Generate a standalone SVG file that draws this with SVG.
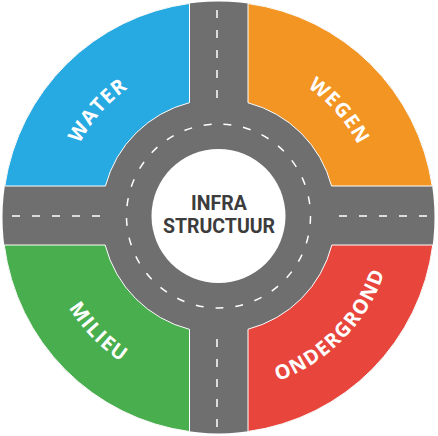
<svg xmlns="http://www.w3.org/2000/svg" width="438" height="436" viewBox="0 0 438 436">
  <style>
    .road { fill: #6f6f6f; }
    .sector { stroke: #ffffff; stroke-width: 1; }
    .dash { fill: none; stroke: #ffffff; stroke-width: 1.5; stroke-dasharray: 8 12; }
    .label { font-family: "Open Sans", "Liberation Sans", sans-serif; font-weight: 700; font-size: 20px; fill: #ffffff; letter-spacing: 1.2px; }
    .center { font-family: Roboto, "Liberation Sans", sans-serif; font-weight: 700; font-size: 19.5px; fill: #3c3c3c; text-anchor: middle; }
  </style>
  <defs>
    <path id="pWater" d="M62.03,212.72 A156.5,156.5 0 0 1 194.56,61.34"/>
    <path id="pWegen" d="M242.98,61.43 A156.5,156.5 0 0 1 374.98,213.27"/>
    <path id="pMilieu" d="M43.43,228.24 A175.5,175.5 0 0 0 200.15,390.54"/>
    <path id="pOndergrond" d="M189.84,389.14 A175.5,175.5 0 0 0 391.01,183.72"/>
  </defs>

  <g id="roads">
    <circle class="road" cx="218.5" cy="217.5" r="216"/>
  </g>

  <g id="water">
    <path class="sector" fill="#27a9e1" d="M189.5,3.46 L189.5,102.65 A117,117 0 0 0 105.41,186 L4.81,186 A216,216 0 0 1 189.5,3.46 Z"/>
    <text class="label"><textPath href="#pWater" startOffset="50%" text-anchor="middle">WATER</textPath></text>
  </g>

  <g id="wegen">
    <path class="sector" fill="#f39523" d="M248,3.52 L248,102.78 A117,117 0 0 1 331.59,186 L432.19,186 A216,216 0 0 0 248,3.52 Z"/>
    <text class="label"><textPath href="#pWegen" startOffset="50%" text-anchor="middle">WEGEN</textPath></text>
  </g>

  <g id="milieu">
    <path class="sector" fill="#48ae4e" d="M4.26,245 L105.15,245 A117,117 0 0 0 189.5,329.35 L189.5,431.54 A216,216 0 0 1 4.26,245 Z"/>
    <text class="label"><textPath href="#pMilieu" startOffset="50%" text-anchor="middle">MILIEU</textPath></text>
  </g>

  <g id="ondergrond">
    <path class="sector" fill="#e8453c" d="M248,329.22 A117,117 0 0 0 331.85,245 L432.74,245 A216,216 0 0 1 248,431.48 Z"/>
    <text class="label"><textPath href="#pOndergrond" startOffset="50%" text-anchor="middle">ONDERGROND</textPath></text>
  </g>

  <g id="connectors">
    <line class="dash" x1="217" y1="10" x2="217" y2="98"/>
    <line class="dash" x1="217" y1="339" x2="217" y2="427"/>
    <line class="dash" x1="12" y1="216" x2="100" y2="216"/>
    <line class="dash" x1="339" y1="216" x2="427" y2="216"/>
    <circle class="dash" cx="218.5" cy="216" r="92" pathLength="580"/>
  </g>

  <g id="infrastructuur">
    <circle cx="218.5" cy="216" r="67" fill="#ffffff"/>
    <text class="center" x="219" y="210">INFRA</text>
    <text class="center" x="219" y="233">STRUCTUUR</text>
  </g>
</svg>
